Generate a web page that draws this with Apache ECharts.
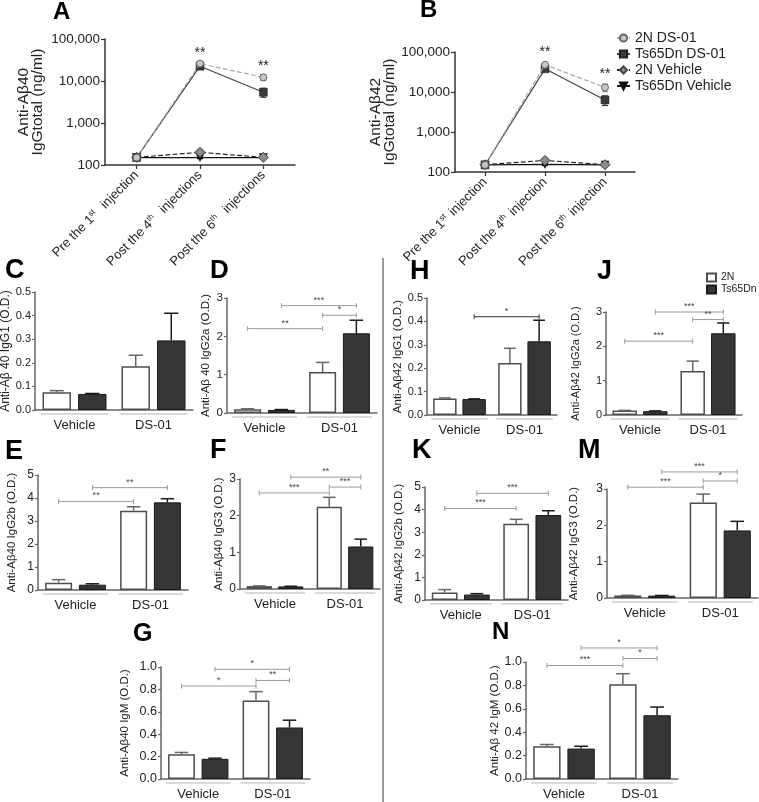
<!DOCTYPE html>
<html><head><meta charset="utf-8">
<script src="https://cdn.jsdelivr.net/npm/echarts@6/dist/echarts.min.js"></script>
<style>html,body{margin:0;padding:0;background:#fff}#c{width:759px;height:802px}</style>
</head><body><div id="c"></div><script>
// ================= DATA =================
const timeCatsA = ['Pre the 1st  injection', 'Post the 4th  injections', 'Post the 6th  injections'];
const timeCatsB = ['Pre the 1st injection', 'Post the 4th injection', 'Post the 6th injection'];
const lineNames = ['2N DS-01', 'Ts65Dn DS-01', '2N Vehicle', 'Ts65Dn Vehicle'];

// Panel A (Anti-Abeta40 IgG total, ng/ml) mean and SEM
const A_2N_DS = [150, 26000, 12200];   const A_2N_DS_sem = [8, 2500, 2000];
const A_Ts_DS = [150, 22500, 5400];    const A_Ts_DS_sem = [8, 2000, 1300];
const A_2N_Veh = [152, 200, 152];      const A_2N_Veh_sem = [5, 30, 5];
const A_Ts_Veh = [150, 150, 150];      const A_Ts_Veh_sem = [4, 8, 4];
const A_stars = [[1, 46000, '**'], [2, 23000, '**']];
// Panel B (Anti-Abeta42 IgG total, ng/ml)
const B_2N_DS = [150, 48000, 13000];   const B_2N_DS_sem = [8, 4000, 2800];
const B_Ts_DS = [150, 38000, 6300];    const B_Ts_DS_sem = [8, 3000, 1700];
const B_2N_Veh = [152, 195, 152];      const B_2N_Veh_sem = [5, 25, 5];
const B_Ts_Veh = [150, 155, 150];      const B_Ts_Veh_sem = [4, 10, 4];
const B_stars = [[1, 100000, '**'], [2, 28000, '**']];

// Bar panels: groups and two genotypes (2N white, Ts65Dn dark)
const barGroups = ['Vehicle', 'DS-01'];
const barNames = ['2N', 'Ts65Dn'];
const C_2N = [0.075, 0.185]; const C_2N_sem = [0.007, 0.047];
const C_Ts = [0.068, 0.295]; const C_Ts_sem = [0.002, 0.115];
const C_sig = [];
const D_2N = [0.10, 1.07];   const D_2N_sem = [0.01, 0.25];
const D_Ts = [0.08, 2.08];   const D_Ts_sem = [0.01, 0.34];
const D_sig = [[0, 0, 1, 0, 2.2, '**'], [0, 1, 1, 1, 2.8, '***'], [1, 0, 1, 1, 2.55, '*']];
const E_2N = [0.32, 3.45];   const E_2N_sem = [0.13, 0.17];
const E_Ts = [0.23, 3.81];   const E_Ts_sem = [0.04, 0.16];
const E_sig = [[0, 0, 1, 0, 3.85, '**'], [0, 1, 1, 1, 4.45, '**']];
const F_2N = [0.08, 2.24];   const F_2N_sem = [0.005, 0.26];
const F_Ts = [0.07, 1.16];   const F_Ts_sem = [0.005, 0.2];
const F_sig = [[0, 0, 1, 0, 2.62, '***'], [0, 1, 1, 1, 3.05, '**'], [1, 0, 1, 1, 2.78, '***']];
const G_2N = [0.22, 0.70];   const G_2N_sem = [0.017, 0.08];
const G_Ts = [0.18, 0.46];   const G_Ts_sem = [0.006, 0.065];
const G_sig = [[0, 0, 1, 0, 0.83, '*'], [0, 1, 1, 1, 0.98, '*'], [1, 0, 1, 1, 0.88, '**']];
const H_2N = [0.071, 0.222]; const H_2N_sem = [0.002, 0.063];
const H_Ts = [0.068, 0.315]; const H_Ts_sem = [0.001, 0.09];
const H_sig = [[0, 1, 1, 1, 0.42, '*']];
const J_2N = [0.13, 1.28];   const J_2N_sem = [0.005, 0.29];
const J_Ts = [0.11, 2.38];   const J_Ts_sem = [0.01, 0.3];
const J_sig = [[0, 0, 1, 0, 2.15, '***'], [0, 1, 1, 1, 3.0, '***'], [1, 0, 1, 1, 2.78, '**']];
const K_2N = [0.33, 3.37];   const K_2N_sem = [0.13, 0.2];
const K_Ts = [0.24, 3.76];   const K_Ts_sem = [0.04, 0.19];
const K_sig = [[0, 0, 1, 0, 4.05, '***'], [0, 1, 1, 1, 4.72, '***']];
const M_2N = [0.07, 2.63];   const M_2N_sem = [0.005, 0.23];
const M_Ts = [0.065, 1.86];  const M_Ts_sem = [0.005, 0.25];
const M_sig = [[0, 0, 1, 0, 3.05, '***'], [0, 1, 1, 1, 3.47, '***'], [1, 0, 1, 1, 3.22, '*']];
const N_2N = [0.28, 0.81];   const N_2N_sem = [0.015, 0.09];
const N_Ts = [0.26, 0.545];  const N_Ts_sem = [0.02, 0.07];
const N_sig = [[0, 0, 1, 0, 0.97, '***'], [0, 1, 1, 1, 1.12, '*'], [1, 0, 1, 1, 1.03, '*']];

// ================= BUILD =================
const FONT = '"Liberation Sans", Arial, Helvetica, sans-serif';
const BW = 0.36, BG = 0.25;
const grids = [], xAxes = [], yAxes = [], series = [], graphics = [];

function supFmt(s) { return s.replace(/(\d)(st|th)/, '$1{sup|$2}'); }

const lineStyles = [
  {symbol: 'circle', symbolSize: 7, itemStyle: {color: '#c6c6c6', borderColor: '#666', borderWidth: 1}, lineStyle: {color: '#a8a8a8', width: 1.2, type: 'dashed'}, err: '#999'},
  {symbol: 'rect', symbolSize: 8, itemStyle: {color: '#3a3a3a', borderColor: '#222', borderWidth: 0.5}, lineStyle: {color: '#444', width: 1.2, type: 'solid'}, err: '#333'},
  {symbol: 'diamond', symbolSize: 10, itemStyle: {color: '#8a8a8a', borderColor: '#444', borderWidth: 1}, lineStyle: {color: '#222', width: 1.2, type: 'dashed'}, err: '#444'},
  {symbol: 'triangle', symbolRotate: 180, symbolSize: 8, itemStyle: {color: '#111', borderColor: '#111', borderWidth: 0.5}, lineStyle: {color: '#111', width: 1.2, type: 'solid'}, err: '#111'}
];

function linePanel(idx, p) {
  grids.push({left: p.l, top: p.t, width: p.r - p.l, height: p.b - p.t, containLabel: false, outerBoundsMode: 'none'});
  xAxes.push({gridIndex: idx, type: 'category', data: p.cats, boundaryGap: true,
    axisLine: {lineStyle: {color: '#333', width: 1.5}},
    axisTick: {show: true, alignWithLabel: true, length: 4, lineStyle: {color: '#333', width: 1.2}},
    axisLabel: {rotate: 45, interval: 0, fontSize: 13, fontFamily: FONT, color: '#222', margin: 8, formatter: supFmt,
      rich: {sup: {fontSize: 8, fontFamily: FONT, color: '#222', verticalAlign: 'top', padding: [0, 2, 7, 0]}}}});
  yAxes.push({gridIndex: idx, type: 'log', logBase: 10, min: 100, max: 100000,
    splitLine: {show: false}, minorTick: {show: false},
    axisLine: {show: true, lineStyle: {color: '#333', width: 1.5}},
    axisTick: {show: true, length: 4, lineStyle: {color: '#333', width: 1.2}},
    axisLabel: {fontSize: 13.5, fontFamily: FONT, color: '#222', margin: 5,
      formatter: v => Math.round(v).toLocaleString('en-US')},
    name: p.name, nameLocation: 'middle', nameGap: p.gap,
    nameTextStyle: {fontSize: 15.5, lineHeight: 14, fontFamily: FONT, color: '#222', align: 'center'}});
  p.means.forEach((m, k) => {
    const st = lineStyles[k];
    series.push({type: 'line', name: lineNames[k], xAxisIndex: idx, yAxisIndex: idx, data: m,
      symbol: st.symbol, symbolSize: st.symbolSize, symbolRotate: st.symbolRotate || 0,
      itemStyle: st.itemStyle, lineStyle: st.lineStyle, z: 3 + (3 - k)});
    series.push({type: 'custom', xAxisIndex: idx, yAxisIndex: idx, silent: true, clip: false, z: 2,
      data: m.map((v, i) => [i, v - p.sems[k][i], v + p.sems[k][i]]),
      encode: {x: 0, y: [1, 2]},
      renderItem: (params, api) => {
        const lo = api.coord([api.value(0), api.value(1)]);
        const hi = api.coord([api.value(0), api.value(2)]);
        const x = lo[0], c = 3;
        return {type: 'group', children: [
          {type: 'line', shape: {x1: x, y1: lo[1], x2: x, y2: hi[1]}, style: {stroke: st.err, lineWidth: 1.2}},
          {type: 'line', shape: {x1: x - c, y1: hi[1], x2: x + c, y2: hi[1]}, style: {stroke: st.err, lineWidth: 1.2}},
          {type: 'line', shape: {x1: x - c, y1: lo[1], x2: x + c, y2: lo[1]}, style: {stroke: st.err, lineWidth: 1.2}}
        ]};
      }});
  });
  series.push({type: 'custom', xAxisIndex: idx, yAxisIndex: idx, silent: true, clip: false, z: 5,
    data: p.stars.map(s => [s[0], s[1]]),
    encode: {x: 0, y: 1},
    renderItem: (params, api) => {
      const pt = api.coord([api.value(0), api.value(1)]);
      return {type: 'text', x: pt[0], y: pt[1], style: {text: p.stars[params.dataIndex][2], fontSize: 14, fontFamily: FONT, fill: '#222', align: 'center', verticalAlign: 'middle'}};
    }});
}

function barOffset(api, bi) {
  const band = api.size([1, 0])[0];
  const w = band * BW;
  return {off: (bi ? 1 : -1) * (w + w * BG) / 2, w: w, band: band};
}

function barPanel(idx, p) {
  grids.push({left: p.l, top: p.t, width: p.r - p.l, height: p.b - p.t, containLabel: false, outerBoundsMode: 'none'});
  xAxes.push({gridIndex: idx, type: 'category', data: barGroups,
    axisLine: {lineStyle: {color: '#666', width: 1.5}}, axisTick: {show: false},
    axisLabel: {fontSize: 13, fontFamily: FONT, color: '#222', margin: 9}});
  yAxes.push({gridIndex: idx, type: 'value', min: 0, max: p.max, interval: p.iv,
    splitLine: {show: false},
    axisLine: {show: true, lineStyle: {color: '#666', width: 1.5}},
    axisTick: {show: true, length: 3, lineStyle: {color: '#666', width: 1.2}},
    axisLabel: {fontSize: p.tfs, fontFamily: FONT, color: '#222', margin: 4, formatter: v => v.toFixed(p.dec)},
    name: p.name, nameLocation: 'middle', nameGap: p.gap,
    nameTextStyle: {fontSize: p.nfs, fontFamily: FONT, color: '#222'}});
  const sets = [[p.d2, p.e2, 0, '#666'], [p.dT, p.eT, 1, '#1a1a1a']];
  series.push({type: 'bar', name: barNames[0], xAxisIndex: idx, yAxisIndex: idx, data: p.d2,
    barWidth: (BW * 100) + '%', barGap: (BG * 100) + '%', z: 2,
    itemStyle: {color: '#ffffff', borderColor: '#4d4d4d', borderWidth: 1.5}});
  series.push({type: 'bar', name: barNames[1], xAxisIndex: idx, yAxisIndex: idx, data: p.dT,
    barWidth: (BW * 100) + '%', barGap: (BG * 100) + '%', z: 2,
    itemStyle: {color: '#363636', borderColor: '#1a1a1a', borderWidth: 1}});
  sets.forEach(([d, e, bi, col]) => {
    series.push({type: 'custom', xAxisIndex: idx, yAxisIndex: idx, silent: true, clip: false, z: 3,
      data: d.map((v, i) => [i, v, v + e[i]]),
      encode: {x: 0, y: [1, 2]},
      renderItem: (params, api) => {
        const o = barOffset(api, bi);
        const b = api.coord([api.value(0), api.value(1)]);
        const t = api.coord([api.value(0), api.value(2)]);
        const x = b[0] + o.off, cw = o.w * 0.5;
        return {type: 'group', children: [
          {type: 'line', shape: {x1: x, y1: b[1], x2: x, y2: t[1]}, style: {stroke: col, lineWidth: 1.5}},
          {type: 'line', shape: {x1: x - cw / 2, y1: t[1], x2: x + cw / 2, y2: t[1]}, style: {stroke: col, lineWidth: 1.5}}
        ]};
      }});
  });
  // group underlines below the axis
  series.push({type: 'custom', xAxisIndex: idx, yAxisIndex: idx, silent: true, clip: false, z: 1,
    data: barGroups.map((g, i) => [i, 0]), encode: {x: 0, y: 1},
    renderItem: (params, api) => {
      const o = barOffset(api, 0);
      const c = api.coord([api.value(0), 0]);
      const half = o.w + o.w * BG / 2 + 2;
      return {type: 'line', shape: {x1: c[0] - half, y1: c[1] + 4, x2: c[0] + half, y2: c[1] + 4}, style: {stroke: '#b5b5b5', lineWidth: 1}};
    }});
  // significance brackets
  if (p.sig.length) {
    series.push({type: 'custom', xAxisIndex: idx, yAxisIndex: idx, silent: true, clip: false, z: 4,
      data: p.sig.map(s => [s[0], s[4]]), encode: {x: 0, y: 1},
      renderItem: (params, api) => {
        const s = p.sig[params.dataIndex];
        const p1 = api.coord([s[0], s[4]]), p2 = api.coord([s[2], s[4]]);
        const x1 = p1[0] + barOffset(api, s[1]).off, x2 = p2[0] + barOffset(api, s[3]).off;
        const y = p1[1], col = p.sigColor || '#9a9a9a';
        return {type: 'group', children: [
          {type: 'line', shape: {x1: x1, y1: y, x2: x2, y2: y}, style: {stroke: col, lineWidth: 1}},
          {type: 'line', shape: {x1: x1, y1: y - 2.5, x2: x1, y2: y + 2.5}, style: {stroke: col, lineWidth: 1}},
          {type: 'line', shape: {x1: x2, y1: y - 2.5, x2: x2, y2: y + 2.5}, style: {stroke: col, lineWidth: 1}},
          {type: 'text', x: (x1 + x2) / 2, y: y - 1, style: {text: s[5], fontSize: 9, fontFamily: FONT, fill: '#444', align: 'center', verticalAlign: 'bottom'}}
        ]};
      }});
  }
}

linePanel(0, {l: 105, r: 295, t: 39, b: 165, cats: timeCatsA, name: 'Anti-Aβ40\nIgGtotal (ng/ml)', gap: 60,
  means: [A_2N_DS, A_Ts_DS, A_2N_Veh, A_Ts_Veh], sems: [A_2N_DS_sem, A_Ts_DS_sem, A_2N_Veh_sem, A_Ts_Veh_sem], stars: A_stars});
linePanel(1, {l: 455, r: 635, t: 52, b: 172, cats: timeCatsB, name: 'Anti-Aβ42\nIgGtotal (ng/ml)', gap: 53,
  means: [B_2N_DS, B_Ts_DS, B_2N_Veh, B_Ts_Veh], sems: [B_2N_DS_sem, B_Ts_DS_sem, B_2N_Veh_sem, B_Ts_Veh_sem], stars: B_stars});

const panels = [
  {l: 35, r: 193, t: 292, b: 410, max: 0.5, iv: 0.1, dec: 1, tfs: 11, nfs: 12, gap: 21, name: 'Anti-Aβ 40 IgG1 (O.D.)', d2: C_2N, e2: C_2N_sem, dT: C_Ts, eT: C_Ts_sem, sig: C_sig},
  {l: 227, r: 377, t: 298, b: 413, max: 3, iv: 1, dec: 0, tfs: 11.5, nfs: 11.5, gap: 15, name: 'Anti-Aβ 40 IgG2a (O.D.)', d2: D_2N, e2: D_2N_sem, dT: D_Ts, eT: D_Ts_sem, sig: D_sig},
  {l: 38, r: 188, t: 475, b: 590, max: 5, iv: 1, dec: 0, tfs: 12, nfs: 11.5, gap: 20, name: 'Anti-Aβ40 IgG2b (O.D.)', d2: E_2N, e2: E_2N_sem, dT: E_Ts, eT: E_Ts_sem, sig: E_sig},
  {l: 240, r: 380, t: 479, b: 589, max: 3, iv: 1, dec: 0, tfs: 12, nfs: 11.5, gap: 15, name: 'Anti-Aβ40 IgG3 (O.D.)', d2: F_2N, e2: F_2N_sem, dT: F_Ts, eT: F_Ts_sem, sig: F_sig},
  {l: 161, r: 310, t: 667, b: 779, max: 1.0, iv: 0.2, dec: 1, tfs: 12.5, nfs: 11.5, gap: 30, name: 'Anti-Aβ40 IgM (O.D.)', d2: G_2N, e2: G_2N_sem, dT: G_Ts, eT: G_Ts_sem, sig: G_sig},
  {l: 427, r: 557, t: 298, b: 415, max: 0.5, iv: 0.1, dec: 1, tfs: 11, nfs: 11.5, gap: 23, name: 'Anti-Aβ42 IgG1 (O.D.)', d2: H_2N, e2: H_2N_sem, dT: H_Ts, eT: H_Ts_sem, sig: H_sig, sigColor: '#333'},
  {l: 606, r: 742, t: 312, b: 415, max: 3, iv: 1, dec: 0, tfs: 11, nfs: 11, gap: 25, name: 'Anti-Aβ42 IgG2a (O.D.)', d2: J_2N, e2: J_2N_sem, dT: J_Ts, eT: J_Ts_sem, sig: J_sig},
  {l: 425, r: 568, t: 487, b: 600, max: 5, iv: 1, dec: 0, tfs: 12, nfs: 11.5, gap: 20, name: 'Anti-Aβ42 IgG2b (O.D.)', d2: K_2N, e2: K_2N_sem, dT: K_Ts, eT: K_Ts_sem, sig: K_sig},
  {l: 607, r: 758, t: 489, b: 598, max: 3, iv: 1, dec: 0, tfs: 12, nfs: 11.5, gap: 27, name: 'Anti-Aβ42 IgG3 (O.D.)', d2: M_2N, e2: M_2N_sem, dT: M_Ts, eT: M_Ts_sem, sig: M_sig},
  {l: 526, r: 678, t: 662, b: 779, max: 1.0, iv: 0.2, dec: 1, tfs: 12.5, nfs: 11.5, gap: 24, name: 'Anti-Aβ 42 IgM (O.D.)', d2: N_2N, e2: N_2N_sem, dT: N_Ts, eT: N_Ts_sem, sig: N_sig}
];
panels.forEach((p, i) => barPanel(i + 2, p));

// panel letters
const letters = [
  ['A', 53, 0, 24], ['B', 420, -2, 24], ['C', 5, 257, 27], ['D', 210, 258, 26],
  ['E', 5, 438, 27], ['F', 210, 437, 27], ['G', 133, 622, 25], ['H', 410, 258, 27],
  ['J', 597, 258, 27], ['K', 412, 437, 27], ['M', 578, 437, 27], ['N', 492, 620, 24]
];
letters.forEach(([t, x, y, fs]) => graphics.push({type: 'text', x: x, y: y, silent: true,
  style: {text: t, fontSize: fs, fontWeight: 'bold', fontFamily: FONT, fill: '#000', verticalAlign: 'top'}}));
graphics.push({type: 'line', silent: true, shape: {x1: 383, y1: 258, x2: 383, y2: 802}, style: {stroke: '#777', lineWidth: 1.5}});

const chart = echarts.init(document.getElementById('c'), null, {renderer: 'canvas'});
chart.setOption({
  animation: false,
  backgroundColor: '#fff',
  textStyle: {fontFamily: FONT},
  grid: grids, xAxis: xAxes, yAxis: yAxes, series: series, graphic: graphics,
  legend: [
    {data: lineNames, orient: 'vertical', left: 616, top: 31, itemWidth: 13, itemHeight: 9, itemGap: 2, padding: 0,
      textStyle: {fontSize: 14, fontFamily: FONT, color: '#222'}},
    {data: barNames, orient: 'vertical', left: 706, top: 272, itemWidth: 9, itemHeight: 8, itemGap: 1, padding: 0, icon: 'rect',
      textStyle: {fontSize: 10.5, fontFamily: FONT, color: '#222'}}
  ]
});
</script></body></html>
